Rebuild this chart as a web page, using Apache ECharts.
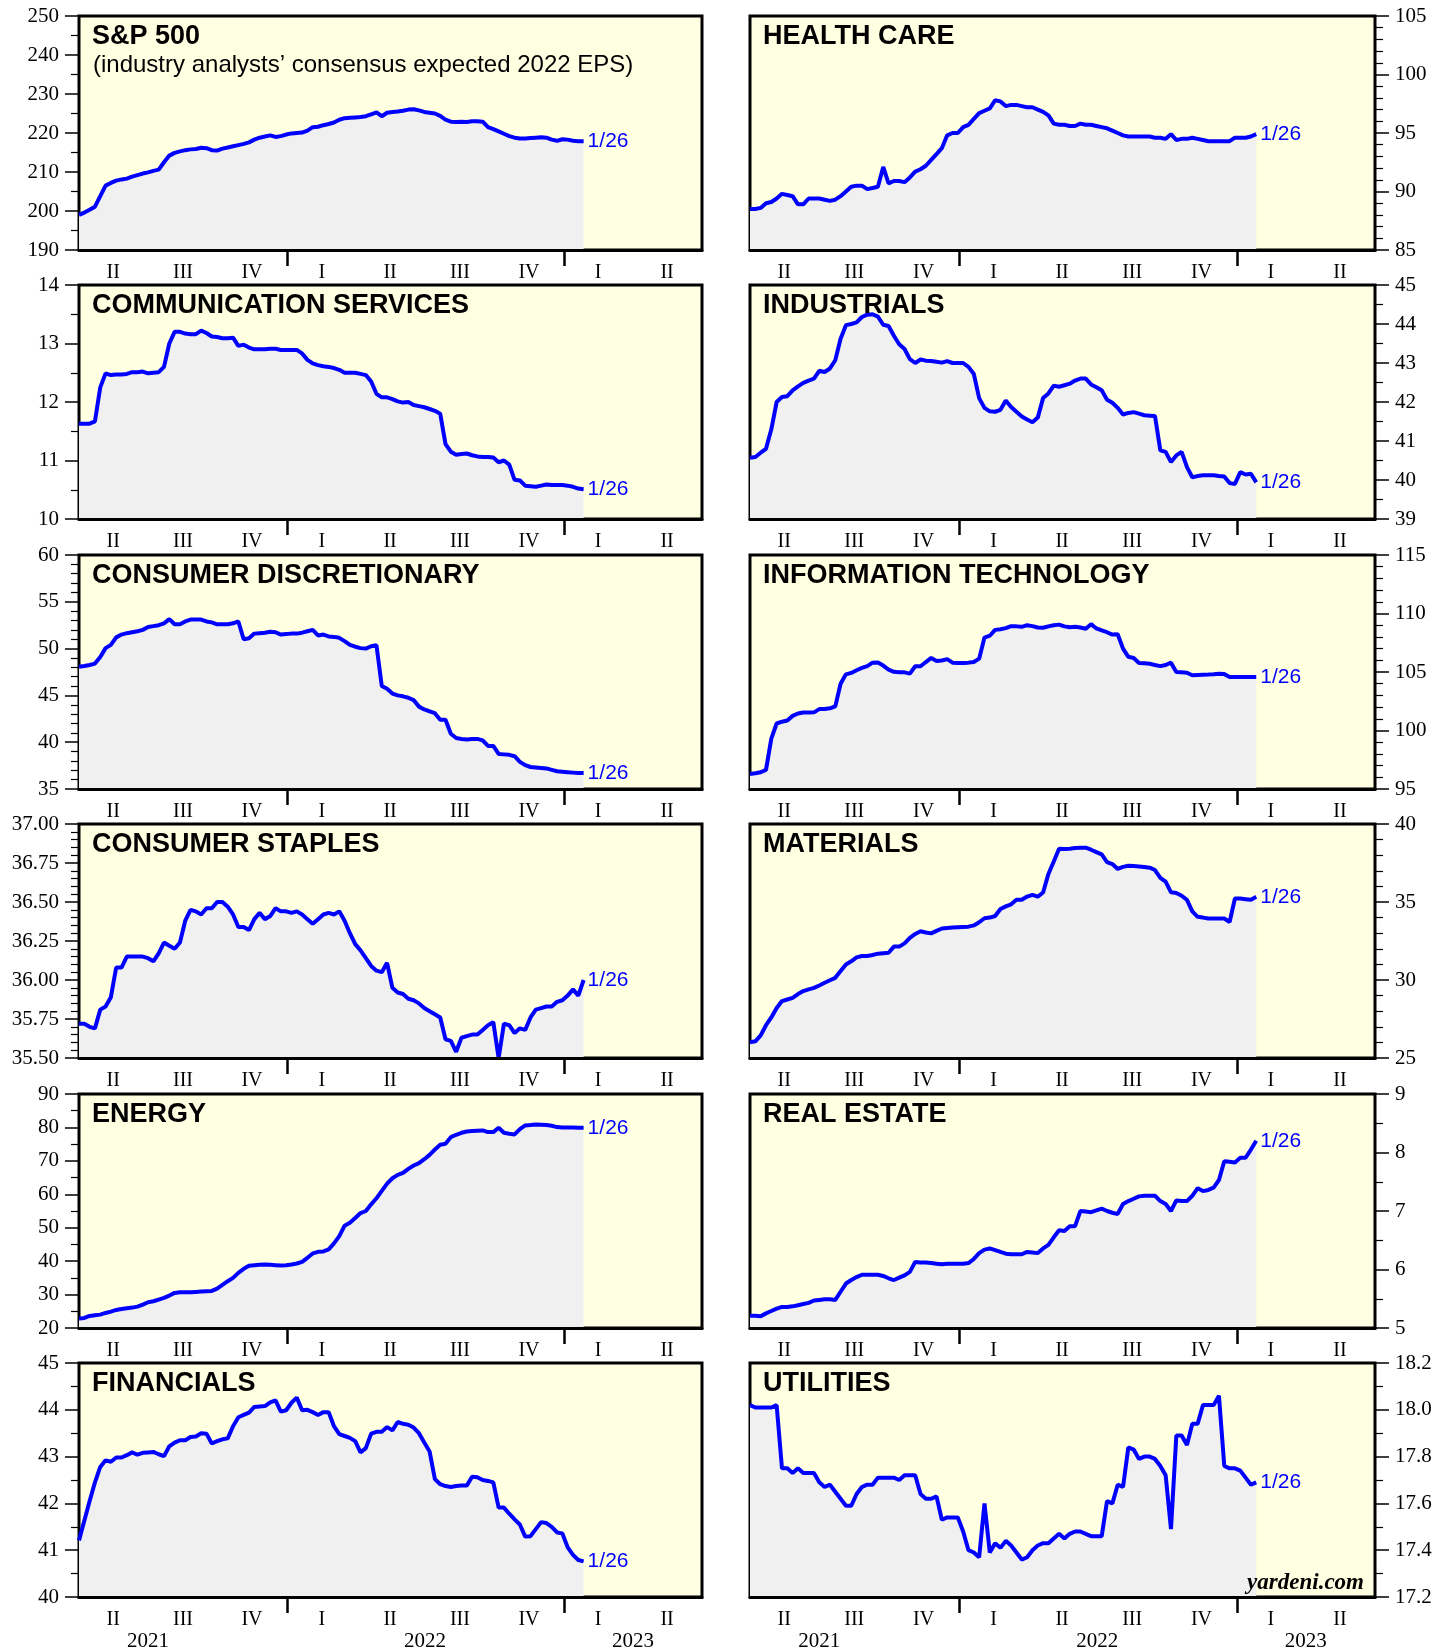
<!DOCTYPE html>
<html>
<head>
<meta charset="utf-8">
<title>Industry analysts' consensus expected 2022 EPS</title>
<script src="https://cdn.jsdelivr.net/npm/echarts@6/dist/echarts.min.js"></script>
<style>
  html, body { margin: 0; padding: 0; background: #fff; }
  #chart { width: 1447px; height: 1650px; }
</style>
</head>
<body>
<div id="chart"></div>
<script>
// weekly readings (Thursdays), first one 2021-04-01, last one 2023-01-26
const sp500 = [
  199.0, 199.6, 200.3, 201.1, 203.8, 206.5, 207.2, 207.8,
  208.1, 208.3, 208.8, 209.2, 209.6, 209.9, 210.3, 210.6,
  212.5, 214.2, 214.9, 215.3, 215.6, 215.8, 215.9, 216.2,
  216.1, 215.6, 215.5, 216.0, 216.3, 216.6, 216.9, 217.2,
  217.6, 218.3, 218.8, 219.1, 219.4, 219.0, 219.2, 219.6,
  219.9, 220.0, 220.1, 220.6, 221.5, 221.6, 222.0, 222.3,
  222.7, 223.4, 223.8, 223.9, 224.0, 224.1, 224.3, 224.8,
  225.3, 224.3, 225.2, 225.4, 225.5, 225.7, 226.0, 226.1,
  225.8, 225.4, 225.2, 225.0, 224.4, 223.4, 222.9, 222.8,
  222.9, 222.8, 223.0, 223.0, 222.9, 221.5, 221.0, 220.4,
  219.8, 219.2, 218.8, 218.6, 218.6, 218.7, 218.8, 218.9,
  218.8, 218.3, 218.0, 218.4, 218.3, 218.0, 217.9, 217.9
];
const healthCare = [
  88.5, 88.5, 88.6, 89.0, 89.1, 89.4, 89.8, 89.7,
  89.6, 88.9, 88.9, 89.4, 89.4, 89.4, 89.3, 89.2,
  89.3, 89.6, 90.0, 90.4, 90.5, 90.5, 90.2, 90.3,
  90.4, 92.1, 90.7, 90.9, 90.9, 90.8, 91.2, 91.7,
  91.9, 92.2, 92.7, 93.2, 93.7, 94.8, 95.0, 95.0,
  95.5, 95.7, 96.2, 96.7, 96.9, 97.1, 97.8, 97.7,
  97.3, 97.4, 97.4, 97.3, 97.2, 97.2, 97.0, 96.8,
  96.5, 95.8, 95.7, 95.7, 95.6, 95.6, 95.8, 95.7,
  95.7, 95.6, 95.5, 95.4, 95.2, 95.0, 94.8, 94.7,
  94.7, 94.7, 94.7, 94.7, 94.6, 94.6, 94.5, 94.9,
  94.4, 94.5, 94.5, 94.6, 94.5, 94.4, 94.3, 94.3,
  94.3, 94.3, 94.3, 94.6, 94.6, 94.6, 94.7, 94.9
];
const commServices = [
  11.63, 11.63, 11.63, 11.67, 12.25, 12.49, 12.46, 12.47,
  12.47, 12.48, 12.51, 12.51, 12.52, 12.49, 12.50, 12.51,
  12.60, 13.00, 13.20, 13.20, 13.17, 13.16, 13.16, 13.22,
  13.18, 13.12, 13.11, 13.09, 13.09, 13.10, 12.96, 12.98,
  12.93, 12.90, 12.90, 12.90, 12.91, 12.91, 12.89, 12.89,
  12.89, 12.89, 12.83, 12.72, 12.66, 12.63, 12.61, 12.60,
  12.58, 12.55, 12.50, 12.50, 12.50, 12.48, 12.46, 12.35,
  12.14, 12.08, 12.08, 12.05, 12.01, 11.99, 12.00, 11.95,
  11.93, 11.91, 11.88, 11.85, 11.80, 11.28, 11.15, 11.10,
  11.11, 11.12, 11.09, 11.07, 11.06, 11.06, 11.05, 10.97,
  11.00, 10.93, 10.67, 10.66, 10.57, 10.56, 10.55, 10.57,
  10.59, 10.58, 10.58, 10.58, 10.57, 10.55, 10.52, 10.51
];
const industrials = [
  40.57, 40.59, 40.70, 40.80, 41.30, 42.00, 42.13, 42.15,
  42.30, 42.40, 42.49, 42.55, 42.60, 42.80, 42.77, 42.86,
  43.07, 43.62, 43.97, 44.00, 44.04, 44.18, 44.24, 44.25,
  44.19, 43.98, 43.95, 43.70, 43.48, 43.36, 43.10, 43.00,
  43.09, 43.06, 43.05, 43.03, 43.01, 43.05, 43.00, 43.00,
  43.00, 42.90, 42.72, 42.10, 41.85, 41.76, 41.75, 41.80,
  42.04, 41.87, 41.75, 41.63, 41.55, 41.48, 41.60, 42.10,
  42.22, 42.42, 42.39, 42.43, 42.47, 42.55, 42.60, 42.60,
  42.45, 42.38, 42.30, 42.06, 41.98, 41.85, 41.68, 41.72,
  41.74, 41.70, 41.66, 41.65, 41.64, 40.76, 40.72, 40.46,
  40.63, 40.72, 40.33, 40.07, 40.10, 40.12, 40.12, 40.12,
  40.10, 40.09, 39.92, 39.90, 40.20, 40.14, 40.16, 39.94
];
const consDiscretionary = [
  48.07, 48.15, 48.25, 48.40, 49.10, 50.05, 50.40, 51.20,
  51.50, 51.65, 51.75, 51.85, 52.00, 52.30, 52.40, 52.50,
  52.70, 53.15, 52.60, 52.60, 52.90, 53.10, 53.10, 53.10,
  52.90, 52.80, 52.60, 52.60, 52.60, 52.70, 52.90, 51.00,
  51.10, 51.60, 51.65, 51.70, 51.80, 51.75, 51.50, 51.55,
  51.60, 51.60, 51.70, 51.85, 52.00, 51.40, 51.50, 51.30,
  51.25, 51.15, 50.80, 50.40, 50.20, 50.05, 50.00, 50.25,
  50.35, 46.00, 45.70, 45.20, 45.00, 44.90, 44.75, 44.50,
  43.80, 43.50, 43.30, 43.10, 42.40, 42.40, 40.90, 40.45,
  40.35, 40.30, 40.35, 40.35, 40.20, 39.60, 39.60, 38.75,
  38.70, 38.65, 38.50, 37.90, 37.55, 37.35, 37.30, 37.25,
  37.20, 37.05, 36.90, 36.85, 36.80, 36.75, 36.70, 36.70
];
const infoTech = [
  96.29, 96.35, 96.43, 96.63, 99.30, 100.60, 100.75, 100.85,
  101.25, 101.45, 101.54, 101.54, 101.55, 101.83, 101.83, 101.90,
  102.06, 104.00, 104.80, 104.92, 105.15, 105.35, 105.50, 105.80,
  105.82, 105.55, 105.20, 105.02, 104.97, 104.97, 104.86, 105.49,
  105.49, 105.85, 106.20, 105.94, 105.98, 106.10, 105.80, 105.77,
  105.77, 105.80, 105.86, 106.14, 107.94, 108.10, 108.60, 108.66,
  108.75, 108.92, 108.90, 108.86, 109.00, 108.92, 108.80, 108.78,
  108.90, 109.00, 109.05, 108.90, 108.82, 108.86, 108.80, 108.70,
  109.09, 108.72, 108.55, 108.40, 108.20, 108.23, 107.00, 106.30,
  106.20, 105.77, 105.75, 105.71, 105.60, 105.50, 105.60, 105.80,
  105.00, 104.98, 104.94, 104.72, 104.75, 104.77, 104.78, 104.80,
  104.85, 104.82, 104.58, 104.57, 104.57, 104.57, 104.57, 104.57
];
const consStaples = [
  35.72, 35.72, 35.70, 35.69, 35.81, 35.83, 35.89, 36.08,
  36.08, 36.15, 36.15, 36.15, 36.15, 36.14, 36.12, 36.17,
  36.24, 36.22, 36.20, 36.24, 36.38, 36.45, 36.44, 36.42,
  36.46, 36.46, 36.50, 36.50, 36.47, 36.42, 36.34, 36.34,
  36.32, 36.39, 36.43, 36.39, 36.41, 36.46, 36.44, 36.44,
  36.43, 36.44, 36.42, 36.39, 36.36, 36.39, 36.42, 36.43,
  36.42, 36.44, 36.38, 36.30, 36.23, 36.19, 36.14, 36.09,
  36.06, 36.05, 36.11, 35.95, 35.92, 35.91, 35.88, 35.87,
  35.85, 35.82, 35.80, 35.78, 35.76, 35.62, 35.61, 35.54,
  35.63, 35.64, 35.65, 35.65, 35.68, 35.71, 35.73, 35.50,
  35.72, 35.71, 35.66, 35.69, 35.68, 35.76, 35.81, 35.82,
  35.83, 35.83, 35.86, 35.87, 35.90, 35.94, 35.90, 36.00
];
const materials = [
  26.01, 26.07, 26.45, 27.10, 27.60, 28.20, 28.65, 28.75,
  28.86, 29.10, 29.29, 29.40, 29.50, 29.65, 29.82, 29.98,
  30.14, 30.57, 31.00, 31.20, 31.45, 31.54, 31.54, 31.60,
  31.69, 31.72, 31.75, 32.14, 32.14, 32.35, 32.70, 32.95,
  33.12, 33.05, 32.99, 33.15, 33.30, 33.33, 33.36, 33.38,
  33.40, 33.42, 33.50, 33.70, 33.96, 34.00, 34.10, 34.55,
  34.72, 34.85, 35.14, 35.14, 35.35, 35.46, 35.35, 35.61,
  36.80, 37.60, 38.42, 38.39, 38.42, 38.46, 38.47, 38.48,
  38.35, 38.20, 38.05, 37.56, 37.43, 37.12, 37.25, 37.32,
  37.30, 37.28, 37.25, 37.20, 37.05, 36.55, 36.30, 35.62,
  35.58, 35.40, 35.14, 34.40, 34.05, 34.00, 33.94, 33.94,
  33.94, 33.94, 33.72, 35.22, 35.22, 35.18, 35.14, 35.33
];
const energy = [
  22.8, 23.0, 23.6, 23.8, 24.0, 24.5, 24.9, 25.4,
  25.7, 25.9, 26.1, 26.4, 27.0, 27.7, 28.0, 28.5,
  29.0, 29.7, 30.5, 30.7, 30.7, 30.7, 30.8, 30.9,
  31.0, 31.1, 31.8, 32.9, 34.0, 35.0, 36.5, 37.7,
  38.6, 38.8, 38.9, 39.0, 38.9, 38.8, 38.7, 38.8,
  39.0, 39.3, 39.8, 41.0, 42.3, 42.8, 42.9, 43.5,
  45.3, 47.5, 50.6, 51.5, 52.9, 54.4, 55.0, 57.0,
  58.8, 61.0, 63.2, 64.8, 65.8, 66.4, 67.6, 68.6,
  69.3, 70.5, 71.8, 73.4, 74.8, 75.1, 77.1, 77.8,
  78.4, 78.8, 78.9, 79.0, 79.1, 78.6, 78.6, 79.9,
  78.4, 78.1, 77.9, 79.5, 80.6, 80.7, 80.9, 80.8,
  80.7, 80.5, 80.1, 80.0, 80.0, 80.0, 79.9, 79.9
];
const realEstate = [
  5.21, 5.21, 5.20, 5.25, 5.29, 5.33, 5.36, 5.36,
  5.37, 5.39, 5.41, 5.43, 5.47, 5.48, 5.49, 5.49,
  5.48, 5.62, 5.76, 5.82, 5.87, 5.91, 5.91, 5.91,
  5.91, 5.89, 5.85, 5.82, 5.86, 5.90, 5.96, 6.13,
  6.12, 6.12, 6.11, 6.10, 6.09, 6.10, 6.10, 6.10,
  6.10, 6.11, 6.18, 6.28, 6.34, 6.36, 6.33, 6.30,
  6.27, 6.26, 6.26, 6.26, 6.30, 6.29, 6.28, 6.36,
  6.42, 6.55, 6.67, 6.66, 6.74, 6.74, 7.00, 6.99,
  6.98, 7.01, 7.04, 7.00, 6.97, 6.95, 7.12, 7.17,
  7.21, 7.25, 7.26, 7.26, 7.26, 7.17, 7.12, 7.00,
  7.18, 7.17, 7.17, 7.26, 7.39, 7.34, 7.36, 7.40,
  7.53, 7.85, 7.84, 7.83, 7.91, 7.91, 8.05, 8.20
];
const financials = [
  41.21, 41.63, 42.05, 42.45, 42.78, 42.92, 42.89, 42.98,
  42.98, 43.03, 43.09, 43.04, 43.08, 43.09, 43.10, 43.05,
  43.01, 43.22, 43.30, 43.35, 43.35, 43.42, 43.43, 43.50,
  43.49, 43.28, 43.33, 43.37, 43.39, 43.65, 43.84, 43.89,
  43.94, 44.06, 44.07, 44.08, 44.16, 44.20, 43.96, 43.99,
  44.15, 44.26, 43.99, 44.00, 43.95, 43.89, 43.95, 43.95,
  43.65, 43.48, 43.44, 43.40, 43.33, 43.09, 43.18, 43.49,
  43.53, 43.53, 43.63, 43.56, 43.74, 43.70, 43.68, 43.62,
  43.50, 43.30, 43.11, 42.52, 42.41, 42.37, 42.35, 42.37,
  42.38, 42.38, 42.57, 42.56, 42.50, 42.48, 42.45, 41.91,
  41.91, 41.78, 41.66, 41.55, 41.29, 41.30, 41.45, 41.60,
  41.58, 41.50, 41.38, 41.36, 41.06, 40.90, 40.79, 40.76
];
const utilities = [
  18.02, 18.01, 18.01, 18.01, 18.01, 18.02, 17.75, 17.75,
  17.73, 17.75, 17.73, 17.73, 17.73, 17.69, 17.67, 17.68,
  17.65, 17.62, 17.59, 17.59, 17.64, 17.67, 17.68, 17.68,
  17.71, 17.71, 17.71, 17.71, 17.70, 17.72, 17.72, 17.72,
  17.64, 17.62, 17.62, 17.63, 17.53, 17.54, 17.54, 17.54,
  17.48, 17.40, 17.39, 17.37, 17.60, 17.39, 17.43, 17.41,
  17.44, 17.42, 17.39, 17.36, 17.37, 17.40, 17.42, 17.43,
  17.43, 17.45, 17.47, 17.45, 17.47, 17.48, 17.48, 17.47,
  17.46, 17.46, 17.46, 17.61, 17.60, 17.68, 17.67, 17.84,
  17.83, 17.79, 17.80, 17.80, 17.79, 17.76, 17.72, 17.49,
  17.89, 17.89, 17.85, 17.94, 17.94, 18.02, 18.02, 18.02,
  18.06, 17.76, 17.75, 17.75, 17.74, 17.71, 17.68, 17.69
];

// x axis: 2021 Q2 .. 2023 Q2 (dates as UTC milliseconds on a value scale)
const axisStart = '2021-04-01';
const axisEnd = '2023-07-01';
const quarterMids = ['2021-05-16', '2021-08-16', '2021-11-15', '2022-02-15', '2022-05-16',
  '2022-08-16', '2022-11-15', '2023-02-14', '2023-05-16'];
const quarterNames = ['I', 'II', 'III', 'IV'];
const yearBreaks = ['2022-01-01', '2023-01-01'];
const yearMarks = ['2021-07-01', '2022-07-01', '2023-04-01'];
const lastLabel = '1/26';

function ms(s) { return Date.parse(s + 'T00:00:00Z'); }

const weekDates = [];
for (let i = 0; i < sp500.length; i++) {
  weekDates.push(Date.UTC(2021, 3, 1 + 7 * i));
}

// col 0 = left (axis on left), col 1 = right (axis on right)
const panels = [
  { name: 'S&P 500', sub: '(industry analysts’ consensus expected 2022 EPS)', values: sp500, min: 190, max: 250, step: 10, minor: 2, dec: 0, col: 0, row: 0 },
  { name: 'HEALTH CARE', values: healthCare, min: 85, max: 105, step: 5, minor: 5, dec: 0, col: 1, row: 0 },
  { name: 'COMMUNICATION SERVICES', values: commServices, min: 10, max: 14, step: 1, minor: 2, dec: 0, col: 0, row: 1 },
  { name: 'INDUSTRIALS', values: industrials, min: 39, max: 45, step: 1, minor: 2, dec: 0, col: 1, row: 1 },
  { name: 'CONSUMER DISCRETIONARY', values: consDiscretionary, min: 35, max: 60, step: 5, minor: 5, dec: 0, col: 0, row: 2 },
  { name: 'INFORMATION TECHNOLOGY', values: infoTech, min: 95, max: 115, step: 5, minor: 5, dec: 0, col: 1, row: 2 },
  { name: 'CONSUMER STAPLES', values: consStaples, min: 35.5, max: 37, step: 0.25, minor: 5, dec: 2, col: 0, row: 3 },
  { name: 'MATERIALS', values: materials, min: 25, max: 40, step: 5, minor: 5, dec: 0, col: 1, row: 3 },
  { name: 'ENERGY', values: energy, min: 20, max: 90, step: 10, minor: 2, dec: 0, col: 0, row: 4 },
  { name: 'REAL ESTATE', values: realEstate, min: 5, max: 9, step: 1, minor: 2, dec: 0, col: 1, row: 4 },
  { name: 'FINANCIALS', values: financials, min: 40, max: 45, step: 1, minor: 2, dec: 0, col: 0, row: 5 },
  { name: 'UTILITIES', values: utilities, min: 17.2, max: 18.2, step: 0.2, minor: 2, dec: 1, col: 1, row: 5 }
];

const gridLeft = [79, 750];
const gridWidth = [623, 625];
const rowTop = 16;
const rowStep = 269.4;
const gridHeight = 234;

const serif = 'Liberation Serif';
const sans = 'Liberation Sans';

const grids = [];
const xAxes = [];
const yAxes = [];
const series = [];
const titles = [];

panels.forEach(function (p, i) {
  const top = Math.round(rowTop + p.row * rowStep);
  const left = gridLeft[p.col];
  grids.push({
    left: left, top: top, width: gridWidth[p.col], height: gridHeight,
    outerBoundsMode: 'none', containLabel: false,
    show: true, backgroundColor: '#ffffe2', borderColor: '#000', borderWidth: 3
  });
  const xIndex = xAxes.length;
  xAxes.push({
    type: 'value', gridIndex: i, position: 'bottom', min: ms(axisStart), max: ms(axisEnd), z: 5,
    axisLine: { show: true, lineStyle: { color: '#000', width: 3 } },
    axisTick: { show: true, customValues: yearBreaks.map(ms), length: 16, lineStyle: { color: '#000', width: 2.5 } },
    axisLabel: {
      customValues: quarterMids.map(ms), margin: 13,
      fontFamily: serif, fontSize: 20, color: '#000',
      formatter: function (v) { return quarterNames[Math.floor(new Date(v).getUTCMonth() / 3)]; }
    },
    splitLine: { show: false }
  });
  if (p.row === 5) {
    xAxes.push({
      type: 'value', gridIndex: i, position: 'bottom', min: ms(axisStart), max: ms(axisEnd), offset: 21,
      axisLine: { show: false }, axisTick: { show: false },
      axisLabel: {
        customValues: yearMarks.map(ms), margin: 13,
        fontFamily: serif, fontSize: 21, color: '#000',
        formatter: function (v) { return String(new Date(v).getUTCFullYear()); }
      },
      splitLine: { show: false }
    });
  }
  yAxes.push({
    type: 'value', gridIndex: i, position: p.col ? 'right' : 'left',
    min: p.min, max: p.max, interval: p.step, z: 5,
    axisLine: { show: false },
    axisTick: { show: true, length: 14, lineStyle: { color: '#000', width: 1.5 } },
    minorTick: { show: true, splitNumber: p.minor, length: 8, lineStyle: { color: '#000', width: 1.2 } },
    axisLabel: {
      margin: 20, fontFamily: serif, fontSize: 21, color: '#000',
      formatter: function (v) { return v.toFixed(p.dec); }
    },
    splitLine: { show: false },
    minorSplitLine: { show: false }
  });
  series.push({
    name: p.name, type: 'line', xAxisIndex: xIndex, yAxisIndex: i,
    data: weekDates.map(function (d, k) { return [d, p.values[k]]; }),
    showSymbol: false, silent: true,
    lineStyle: { color: '#0000ff', width: 4 },
    areaStyle: { color: '#f0f0f0', opacity: 1, origin: 'start' },
    endLabel: { show: true, formatter: lastLabel, color: '#0000ff', fontFamily: sans, fontSize: 21, distance: 4 }
  });
  titles.push({
    text: p.name, left: left + 13, top: top + 7, padding: 0,
    textStyle: { fontFamily: sans, fontWeight: 'bold', fontSize: 27, color: '#000' }
  });
  if (p.sub) {
    titles.push({
      text: p.sub, left: left + 14, top: top + 37, padding: 0,
      textStyle: { fontFamily: sans, fontWeight: 'normal', fontSize: 24, color: '#000' }
    });
  }
});

const myChart = echarts.init(document.getElementById('chart'));
myChart.setOption({
  backgroundColor: '#fff',
  animation: false,
  title: titles,
  grid: grids,
  xAxis: xAxes,
  yAxis: yAxes,
  series: series,
  graphic: [{
    type: 'text', right: 83, top: 1572, z: 100,
    style: { text: 'yardeni.com', font: 'italic bold 23px "Liberation Serif"', fill: '#000' }
  }]
});
</script>
</body>
</html>
